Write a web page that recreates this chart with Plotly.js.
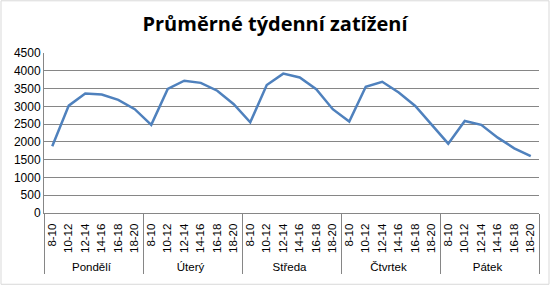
<!DOCTYPE html>
<html>
<head>
<meta charset="utf-8">
<script src="https://cdn.plot.ly/plotly-3.0.1.min.js"></script>
<style>html,body{margin:0;padding:0;background:#fff;}#chart{width:550px;height:285px;}</style>
</head>
<body>
<div id="chart"></div>
<script>
const days = ["Pondělí", "Úterý", "Středa", "Čtvrtek", "Pátek"];
const slots = ["8-10", "10-12", "12-14", "14-16", "16-18", "18-20"];
const values = [
  1880, 3020, 3360, 3330, 3180, 2920,
  2480, 3490, 3720, 3660, 3440, 3060,
  2550, 3600, 3920, 3810, 3480, 2920,
  2570, 3550, 3690, 3390, 3010, 2480,
  1950, 2590, 2480, 2120, 1820, 1600
];

const xDays = [], xSlots = [];
days.forEach(d => slots.forEach(s => { xDays.push(d); xSlots.push(s); }));

const trace = {
  type: "scatter",
  mode: "lines",
  x: [xDays, xSlots],
  y: values,
  line: { color: "#4F81BD", width: 2.5 },
  hoverinfo: "y"
};

const layout = {
  width: 550, height: 285,
  margin: { l: 44, r: 11, t: 53, b: 72 },
  paper_bgcolor: "#ffffff",
  plot_bgcolor: "#ffffff",
  showlegend: false,
  font: { family: "Liberation Sans, Arial, sans-serif", size: 11, color: "#000" },
  title: {
    text: "<b>Průměrné týdenní zatížení</b>",
    x: 0.5, xanchor: "center", y: 0.915, yanchor: "middle",
    font: { family: "Open Sans, Noto Sans, sans-serif", size: 20, color: "#000" }
  },
  xaxis: {
    type: "multicategory",
    range: [-0.5, xSlots.length - 0.5],
    tickangle: -90,
    tickfont: { size: 11.5, color: "#000" },
    showline: true, linecolor: "#868686", linewidth: 1,
    showgrid: false,
    ticks: "",
    ticklabelstandoff: 5,
    showdividers: true, dividercolor: "#868686", dividerwidth: 1,
    zeroline: false
  },
  yaxis: {
    range: [0, 4500],
    dtick: 500,
    tick0: 0,
    showgrid: true, gridcolor: "#868686", gridwidth: 1,
    showline: true, linecolor: "#868686", linewidth: 1,
    zeroline: false,
    ticks: "",
    tickfont: { size: 12, color: "#000" }
  },
  shapes: [{
    type: "rect", xref: "paper", yref: "paper",
    x0: -43/495, x1: 1 + 10/495, y0: -71/159.4, y1: 1 + 52/159.4,
    line: { color: "#d9d9d9", width: 1 }
  }]
};

Plotly.newPlot("chart", [trace], layout, { staticPlot: true, displayModeBar: false });
</script>
</body>
</html>
